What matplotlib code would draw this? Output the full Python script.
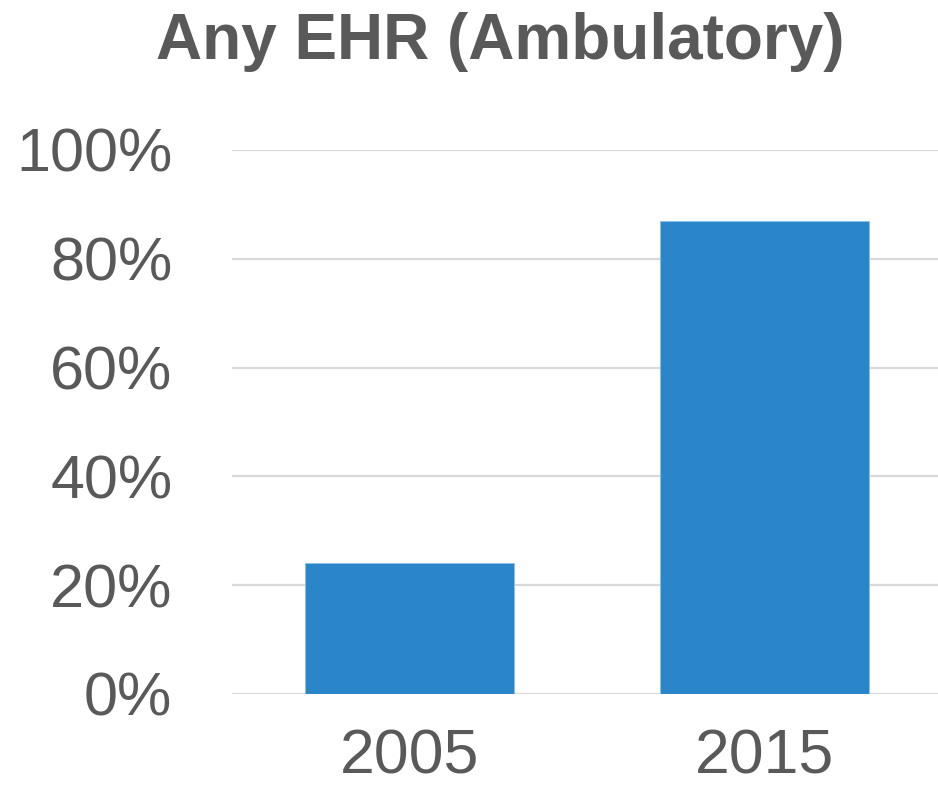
import matplotlib.pyplot as plt
from matplotlib.ticker import PercentFormatter

years = ['2005', '2015']
share = [0.24, 0.87]
yticks = [0, 0.2, 0.4, 0.6, 0.8, 1.0]

grey = '#595959'
plt.rcParams['font.family'] = ['Liberation Sans', 'DejaVu Sans']

fig = plt.figure(figsize=(9.38, 7.95), dpi=100)
# axes spans slightly past the right edge, like the original chart
ax = fig.add_axes([232 / 938, 1 - 694 / 795, (942 - 232) / 938, (694 - 150) / 795])

ax.bar(years, share, width=0.59, color='#2a86c9', edgecolor='#8cc0e6', linewidth=0.6, zorder=3)
ax.set_ylim(0, 1.0)
ax.set_xlim(-0.5, 1.5)
ax.set_yticks(yticks)
ax.yaxis.set_major_formatter(PercentFormatter(1.0, decimals=0))
ax.grid(axis='y', color='#d9d9d9', linewidth=1.6, zorder=0)
ax.set_axisbelow(True)
for s in ax.spines.values():
    s.set_visible(False)
ax.tick_params(axis='y', length=0, pad=43, labelsize=44, labelcolor=grey)
ax.tick_params(axis='x', length=0, pad=24, labelsize=45, labelcolor=grey)

fig.text(500 / 938, 1 - 42 / 795, 'Any EHR (Ambulatory)', ha='center', va='center',
         fontsize=46, fontweight='bold', color=grey)

fig.savefig('out.png', dpi=100)
